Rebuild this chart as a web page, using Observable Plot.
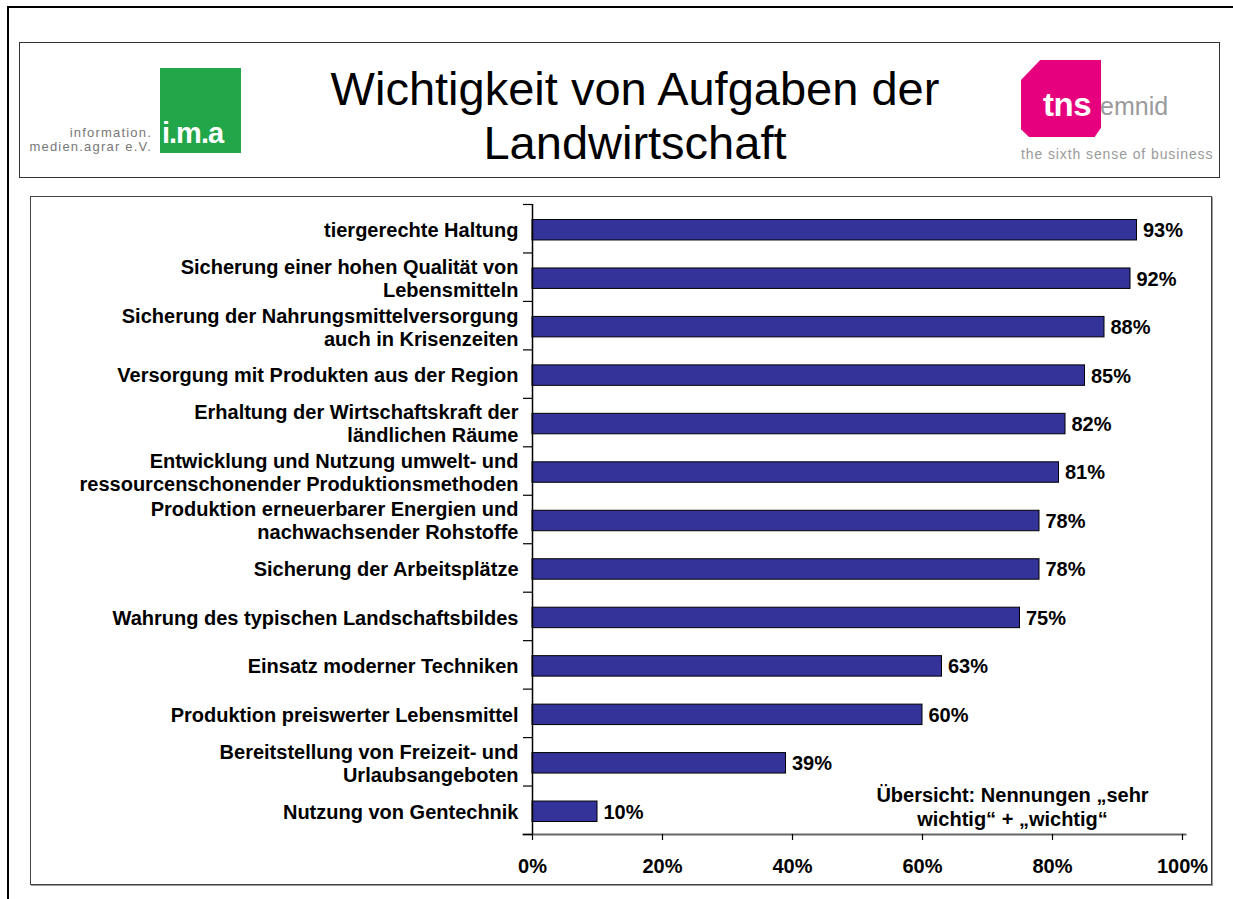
<!DOCTYPE html>
<html>
<head>
<meta charset="utf-8">
<script src="https://cdn.jsdelivr.net/npm/d3@7"></script>
<script src="https://cdn.jsdelivr.net/npm/@observablehq/plot@0.6"></script>
<style>
  html, body { margin: 0; padding: 0; background: #fff; overflow: hidden; }
  body { font-family: "Liberation Sans", Arial, Helvetica, sans-serif; }
  #page { position: relative; width: 1233px; height: 899px; overflow: hidden; background: #fff; }
  .abs { position: absolute; }
  #outer { left: 7px; top: 6px; right: -50px; bottom: -50px; border-top: 2px solid #000; border-left: 2px solid #000; }
  #header { left: 19px; top: 42px; width: 1199px; height: 134px; border: 1.5px solid #333; }
  #title { left: 285px; width: 700px; top: 62px; text-align: center; font-size: 47px; line-height: 54px; color: #000; }
  #imaBox { left: 160px; top: 68px; width: 81px; height: 85px; background: #22a64a; }
  #imaText { left: 162px; top: 117px; font-size: 29px; font-weight: bold; color: #fff; letter-spacing: -1px; }
  #imaSide { left: 0px; width: 152px; top: 126px; text-align: right; font-size: 13px; line-height: 14px; color: #777; letter-spacing: 1.2px; }
  #tnsShape { left: 1021px; top: 60px; width: 80px; height: 77px; background: #e6007e;
    clip-path: polygon(24% 0, 100% 0, 100% 88%, 92% 100%, 10% 100%, 0 90%, 0 26%); }
  #tnsText { left: 1043px; top: 86px; font-size: 33px; font-weight: bold; color: #fff; letter-spacing: -0.5px; }
  #emnid { left: 1100px; top: 92px; font-size: 25px; color: #9a9a9a; }
  #tnsSub { left: 1021px; top: 146px; font-size: 14px; color: #9a9a9a; letter-spacing: 0.9px; }
  #chartBox { left: 30px; top: 196px; width: 1180px; height: 687px; border: 1.5px solid #444; box-shadow: 1px 1px 0 #999; }
  #chart { left: 30px; top: 196px; }
</style>
</head>
<body>
<div id="page">
  <div id="outer" class="abs"></div>
  <div id="header" class="abs"></div>
  <div id="imaBox" class="abs"></div>
  <div id="imaText" class="abs">i.m.a</div>
  <div id="imaSide" class="abs">information.<br>medien.agrar e.V.</div>
  <div id="title" class="abs">Wichtigkeit von Aufgaben der<br>Landwirtschaft</div>
  <div id="tnsShape" class="abs"></div>
  <div id="tnsText" class="abs">tns</div>
  <div id="emnid" class="abs">emnid</div>
  <div id="tnsSub" class="abs">the sixth sense of business</div>
  <div id="chartBox" class="abs"></div>
  <div id="chart" class="abs"></div>
</div>
<script>
const categories = [
  "tiergerechte Haltung",
  "Sicherung einer hohen Qualität von\nLebensmitteln",
  "Sicherung der Nahrungsmittelversorgung\nauch in Krisenzeiten",
  "Versorgung mit Produkten aus der Region",
  "Erhaltung der Wirtschaftskraft der\nländlichen Räume",
  "Entwicklung und Nutzung umwelt- und\nressourcenschonender Produktionsmethoden",
  "Produktion erneuerbarer Energien und\nnachwachsender Rohstoffe",
  "Sicherung der Arbeitsplätze",
  "Wahrung des typischen Landschaftsbildes",
  "Einsatz moderner Techniken",
  "Produktion preiswerter Lebensmittel",
  "Bereitstellung von Freizeit- und\nUrlaubsangeboten",
  "Nutzung von Gentechnik"
];
const values = [93, 92, 88, 85, 82, 81, 78, 78, 75, 63, 60, 39, 10];
const xTicks = [0, 20, 40, 60, 80, 100];
const note = "Übersicht: Nennungen „sehr\nwichtig“ + „wichtig“";

const rows = categories.map((label, i) => ({label, value: values[i], i}));
const boundaries = d3.range(0, categories.length + 1);

const chart = Plot.plot({
  width: 1182,
  height: 689,
  marginLeft: 502,
  marginRight: 30,
  marginTop: 8,
  marginBottom: 51,
  style: {fontFamily: "'Liberation Sans', Arial, Helvetica, sans-serif", fontSize: "20px", color: "#000", background: "transparent"},
  x: {domain: [0, 100], axis: null},
  y: {domain: [0, categories.length], reverse: true, axis: null},
  marks: [
    Plot.rect(rows, {
      x1: () => 0, x2: "value",
      y1: d => d.i, y2: d => d.i + 1,
      insetTop: 15.5, insetBottom: 12.5,
      fill: "#333399", stroke: "#000", strokeWidth: 1
    }),
    Plot.frame({anchor: "bottom", stroke: "#666", strokeWidth: 2, insetLeft: -9, insetRight: -3}),
    Plot.ruleX([0], {stroke: "#000", strokeWidth: 1.5}),
    Plot.axisY({ticks: boundaries, tickSize: 9, tickFormat: () => "", label: null, stroke: "#000", strokeWidth: 1.2}),
    Plot.axisX({ticks: xTicks, tickFormat: d => d + "%", tickSize: 6, tickPadding: 18, label: null,
      fontSize: 20, fontWeight: "bold", stroke: "#000", fill: "#000", strokeWidth: 1.2}),
    Plot.text(rows, {
      frameAnchor: "left", y: d => d.i + 0.5, text: "label",
      textAnchor: "end", dx: -14, dy: 1, lineHeight: 1.15,
      fontSize: 20, fontWeight: "bold", fill: "#000"
    }),
    Plot.text(rows, {
      x: "value", y: d => d.i + 0.5, text: d => d.value + "%",
      textAnchor: "start", dx: 6, dy: 2,
      fontSize: 20, fontWeight: "bold", fill: "#000"
    }),
    Plot.text([note], {
      frameAnchor: "bottom-right", text: d => d, textAnchor: "middle", lineAnchor: "bottom",
      dx: -170, dy: -9, lineHeight: 1.2, fontSize: 20, fontWeight: "bold", fill: "#000"
    })
  ]
});
document.getElementById("chart").appendChild(chart);
</script>
</body>
</html>
